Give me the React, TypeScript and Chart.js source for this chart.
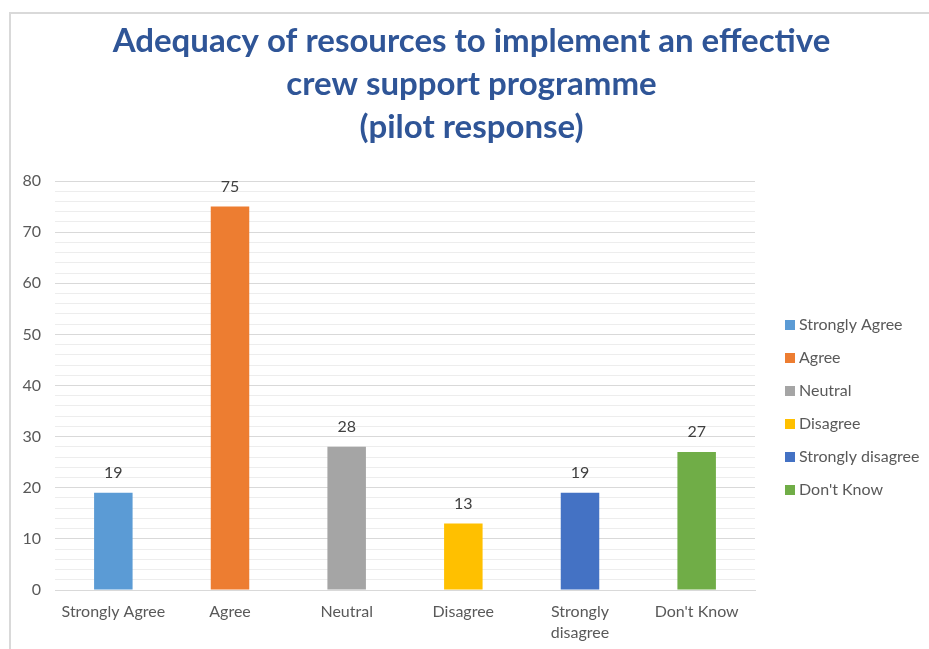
import React, { useEffect, useRef } from "react";
import { Chart, registerables } from "chart.js";

Chart.register(...registerables);

// Survey answers and counts
const categories = ["Strongly Agree", "Agree", "Neutral", "Disagree", "Strongly disagree", "Don't Know"];
const axisLabels: (string | string[])[] = ["Strongly Agree", "Agree", "Neutral", "Disagree", ["Strongly", "disagree"], "Don't Know"];
const responses = [19, 75, 28, 13, 19, 27];
const barColors = ["#5B9BD5", "#ED7D31", "#A5A5A5", "#FFC000", "#4472C4", "#70AD47"];
const titleLines = ["Adequacy of resources to implement an effective", "crew support programme", "(pilot response)"];
const yMin = 0;
const yMax = 80;
const majorStep = 10;
const minorStep = 2;

const FONT = "Lato, 'Open Sans', sans-serif";
const SMALL = 16;
const CANVAS_W = 918;
const CANVAS_H = 635;
const PAD_LEFT = 3;
const PLOT_LEFT = 44;
const LEGEND_STRIP = 174; // room kept free right of the plot for the key
const KEY_OFFSET_X = 30;
const KEY_BOX = 10;
const KEY_TEXT_GAP = 4;
const KEY_ROW = 33;
const KEY_SHIFT_Y = 22;

// Prints each bar's count just above it
const valueLabels = {
  id: "valueLabels",
  afterDatasetsDraw(chart: any) {
    const { ctx } = chart;
    const meta = chart.getDatasetMeta(0);
    const values = chart.data.datasets[0].data as number[];
    ctx.save();
    ctx.font = `${SMALL}px ${FONT}`;
    ctx.fillStyle = "#404040";
    ctx.textAlign = "center";
    ctx.textBaseline = "middle";
    meta.data.forEach((bar: any, i: number) => {
      ctx.fillText(String(values[i]), bar.x, bar.y - 20);
    });
    ctx.restore();
  },
};

// Key with one coloured square per answer, stacked to the right of the plot
const categoryKey = {
  id: "categoryKey",
  afterDraw(chart: any) {
    const { ctx, chartArea } = chart;
    const x = chartArea.right + KEY_OFFSET_X;
    const midY = (chartArea.top + chartArea.bottom) / 2 + KEY_SHIFT_Y;
    const firstY = midY - ((categories.length - 1) / 2) * KEY_ROW;
    ctx.save();
    ctx.font = `${SMALL}px ${FONT}`;
    ctx.textAlign = "left";
    ctx.textBaseline = "middle";
    categories.forEach((name, i) => {
      const y = firstY + i * KEY_ROW;
      ctx.fillStyle = barColors[i];
      ctx.fillRect(x, Math.round(y - KEY_BOX / 2), KEY_BOX, KEY_BOX);
      ctx.fillStyle = "#595959";
      ctx.fillText(name, x + KEY_BOX + KEY_TEXT_GAP, y);
    });
    ctx.restore();
  },
};

export default function App() {
  const canvasRef = useRef<HTMLCanvasElement | null>(null);

  useEffect(() => {
    if (!canvasRef.current) return;
    const chart = new Chart(canvasRef.current, {
      type: "bar",
      data: {
        labels: axisLabels as any,
        datasets: [
          {
            label: "Responses",
            data: responses,
            backgroundColor: barColors,
            borderWidth: 0,
            barPercentage: 0.33,
            categoryPercentage: 1,
          },
        ],
      },
      options: {
        responsive: false,
        animation: false,
        layout: { padding: { left: PAD_LEFT, right: 0, top: 0, bottom: 0 } },
        plugins: {
          tooltip: { enabled: false },
          legend: { display: false },
          title: {
            display: true,
            text: titleLines,
            color: "#2F5597",
            font: { family: FONT, size: 33, weight: "bold", lineHeight: "43px" as any },
            padding: { top: 6, bottom: 32 },
          },
        },
        scales: {
          x: {
            grid: { display: false, drawTicks: false },
            border: { display: true, color: "#D9D9D9" },
            ticks: {
              color: "#595959",
              font: { family: FONT, size: SMALL, lineHeight: 21 / SMALL },
              padding: 11.5,
              maxRotation: 0,
              autoSkip: false,
            },
            afterFit: (s: any) => {
              s.height = 59;
            },
          },
          y: {
            min: yMin,
            max: yMax,
            grid: {
              drawTicks: false,
              color: (ctx: any) => (ctx.tick && ctx.tick.value % majorStep === 0 ? "#D9D9D9" : "#EDEDED"),
              lineWidth: 1,
            },
            border: { display: false },
            ticks: {
              stepSize: minorStep,
              autoSkip: false,
              padding: 14,
              color: "#595959",
              font: { family: FONT, size: SMALL },
              callback: (v: any) => (Number(v) % majorStep === 0 ? String(v) : ""),
            },
            afterFit: (s: any) => {
              s.width = PLOT_LEFT - PAD_LEFT;
            },
          },
          // blank strip on the right that the key is drawn into
          keyStrip: {
            type: "linear",
            position: "right",
            display: true,
            grid: { display: false, drawTicks: false },
            border: { display: false },
            ticks: { display: false },
            afterFit: (s: any) => {
              s.width = LEGEND_STRIP;
            },
          },
        },
      },
      plugins: [valueLabels, categoryKey],
    } as any);
    return () => chart.destroy();
  }, []);

  return (
    <div
      style={{
        position: "absolute",
        left: 9,
        top: 12,
        width: 920,
        height: 637,
        boxSizing: "border-box",
        borderTop: "2px solid #D9D9D9",
        borderLeft: "2px solid #D9D9D9",
        overflow: "hidden",
        background: "#FFFFFF",
      }}
    >
      <canvas
        ref={canvasRef}
        width={CANVAS_W}
        height={CANVAS_H}
        style={{ display: "block", width: CANVAS_W, height: CANVAS_H }}
      />
    </div>
  );
}
